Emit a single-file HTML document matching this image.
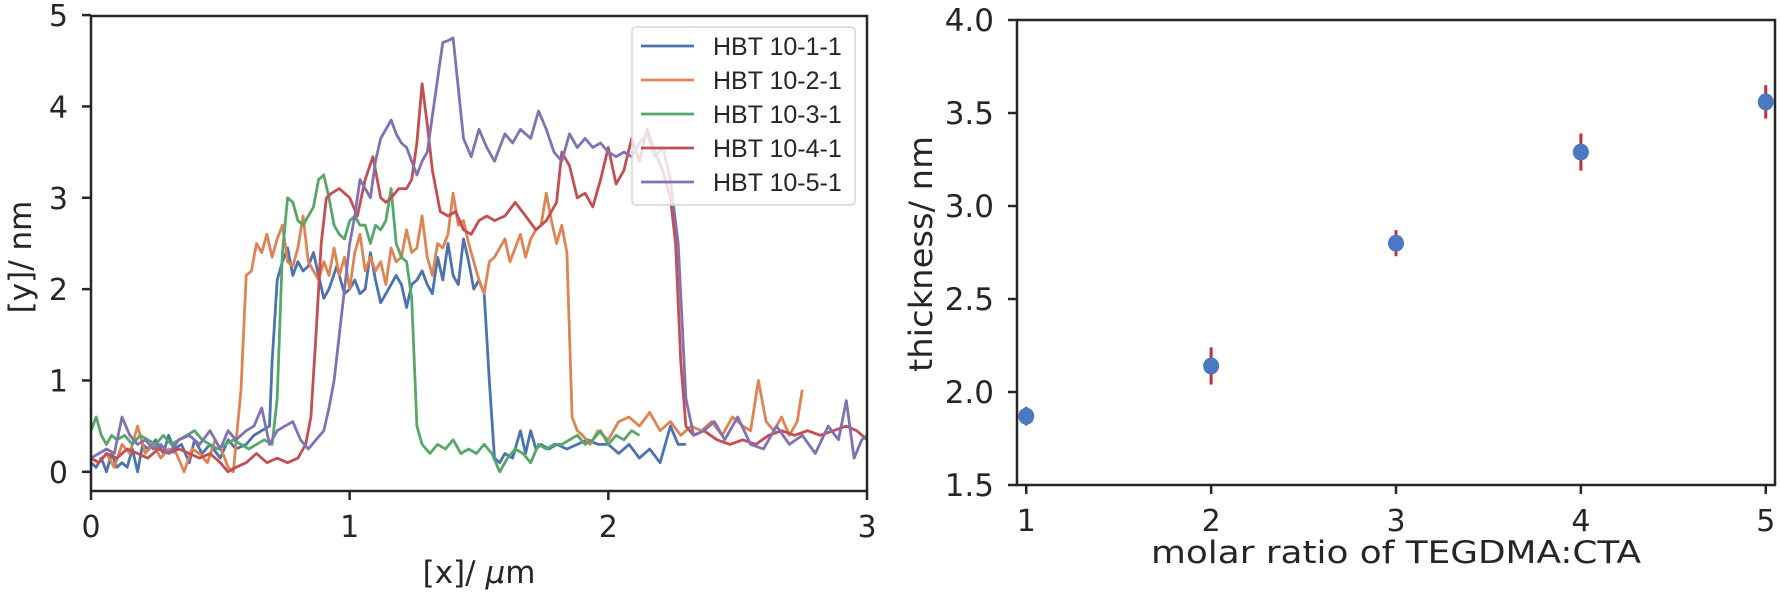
<!DOCTYPE html>
<html><head><meta charset="utf-8">
<style>
html,body{margin:0;padding:0;background:#fff;}
svg{display:block;font-family:"DejaVu Sans",sans-serif;}
</style></head>
<body>
<svg id="chart" width="1781" height="592" viewBox="0 0 1781 592"></svg>
<script>
// ---- Left chart data ----
const xTicksL = [0,1,2,3];
const yTicksL = [0,1,2,3,4,5];
const seriesNames = ["HBT 10-1-1","HBT 10-2-1","HBT 10-3-1","HBT 10-4-1","HBT 10-5-1"];
const blueX = [0,0.02,0.04,0.06,0.08,0.1,0.12,0.14,0.16,0.18,0.2,0.22,0.25,0.28,0.3,0.32,0.35,0.38,0.4,0.43,0.46,0.5,0.53,0.56,0.6,0.63,0.66,0.69,0.70,0.72,0.74,0.76,0.78,0.8,0.82,0.84,0.86,0.88,0.9,0.92,0.95,0.98,1.0,1.02,1.04,1.06,1.08,1.1,1.12,1.15,1.18,1.2,1.22,1.24,1.26,1.28,1.3,1.32,1.34,1.36,1.38,1.4,1.42,1.44,1.46,1.48,1.5,1.52,1.54,1.56,1.58,1.6,1.63,1.66,1.68,1.7,1.72,1.74,1.77,1.8,1.84,1.88,1.92,1.96,2.0,2.04,2.08,2.12,2.16,2.2,2.24,2.27,2.3];
const blueY = [0.1,0.05,0.15,0.0,0.2,0.05,0.1,0.05,0.25,0.0,0.3,0.25,0.35,0.2,0.4,0.25,0.3,0.1,0.35,0.2,0.3,0.15,0.35,0.25,0.3,0.4,0.45,0.5,1.2,2.1,2.3,2.45,2.15,2.3,2.2,2.25,2.4,2.15,1.9,2.0,2.25,1.95,2.0,2.1,1.95,2.0,2.4,2.1,1.85,2.0,2.15,2.05,1.8,2.05,2.1,2.2,2.05,1.95,2.35,2.1,2.5,2.15,2.05,2.55,2.3,2.0,2.1,1.95,1.0,0.15,0.1,0.2,0.15,0.45,0.2,0.45,0.25,0.3,0.25,0.3,0.25,0.3,0.35,0.3,0.3,0.2,0.3,0.15,0.25,0.1,0.5,0.3,0.3];
const orangeX = [0,0.03,0.06,0.09,0.12,0.15,0.18,0.21,0.24,0.27,0.3,0.33,0.36,0.39,0.42,0.45,0.48,0.51,0.53,0.55,0.58,0.6,0.62,0.64,0.66,0.68,0.7,0.72,0.74,0.76,0.78,0.8,0.82,0.84,0.86,0.88,0.9,0.92,0.94,0.96,0.98,1.0,1.02,1.04,1.06,1.08,1.1,1.12,1.14,1.16,1.18,1.2,1.22,1.24,1.26,1.28,1.3,1.32,1.34,1.36,1.38,1.4,1.42,1.44,1.46,1.48,1.5,1.52,1.54,1.56,1.58,1.6,1.62,1.64,1.66,1.68,1.7,1.72,1.74,1.76,1.78,1.8,1.82,1.84,1.86,1.88,1.9,1.93,1.96,2.0,2.04,2.08,2.12,2.16,2.2,2.24,2.28,2.32,2.36,2.4,2.44,2.48,2.52,2.55,2.58,2.61,2.64,2.67,2.7,2.73,2.75];
const orangeY = [0.15,0.1,0.2,0.05,0.3,0.2,0.5,0.2,0.3,0.15,0.25,0.2,0.0,0.25,0.2,0.1,0.35,0.2,0.05,0.0,0.9,2.15,2.2,2.5,2.4,2.6,2.35,2.55,2.7,2.3,2.25,2.45,2.8,2.3,2.2,2.1,2.3,2.15,2.45,2.15,2.35,2.0,2.4,2.6,2.2,2.35,2.2,2.3,2.05,2.45,2.3,2.35,2.65,2.4,2.45,2.8,2.35,2.15,2.5,2.45,2.6,3.05,2.7,2.75,2.5,2.3,2.1,1.95,2.3,2.35,2.45,2.55,2.3,2.45,2.6,2.35,2.55,2.65,2.7,3.05,2.75,2.5,2.7,2.4,0.6,0.45,0.4,0.3,0.45,0.35,0.55,0.6,0.5,0.65,0.45,0.55,0.4,0.5,0.45,0.55,0.4,0.6,0.5,0.45,1.0,0.55,0.45,0.6,0.4,0.55,0.9];
const greenX = [0,0.02,0.04,0.06,0.08,0.1,0.13,0.16,0.19,0.22,0.25,0.28,0.31,0.34,0.37,0.4,0.43,0.46,0.49,0.52,0.55,0.58,0.61,0.64,0.67,0.7,0.72,0.74,0.76,0.78,0.8,0.82,0.84,0.86,0.88,0.9,0.92,0.94,0.96,0.98,1.0,1.02,1.04,1.06,1.08,1.1,1.12,1.14,1.16,1.18,1.2,1.22,1.24,1.26,1.28,1.31,1.34,1.37,1.4,1.43,1.46,1.49,1.52,1.55,1.58,1.61,1.64,1.67,1.7,1.73,1.76,1.79,1.82,1.85,1.88,1.91,1.94,1.97,2.0,2.03,2.06,2.09,2.12];
const greenY = [0.45,0.6,0.4,0.3,0.4,0.35,0.4,0.3,0.4,0.35,0.3,0.4,0.3,0.35,0.4,0.45,0.35,0.3,0.25,0.3,0.35,0.3,0.25,0.3,0.35,0.3,0.8,2.4,3.0,2.95,2.75,2.7,2.8,2.9,3.2,3.25,3.0,2.7,2.6,2.55,2.75,2.8,2.7,2.7,2.5,2.7,2.65,2.75,3.1,2.5,2.35,2.3,1.9,0.5,0.3,0.2,0.3,0.25,0.35,0.2,0.25,0.2,0.3,0.2,0.0,0.15,0.25,0.2,0.1,0.3,0.25,0.3,0.3,0.35,0.4,0.3,0.35,0.45,0.3,0.4,0.35,0.45,0.4];
const redX = [0,0.03,0.06,0.1,0.14,0.18,0.22,0.26,0.3,0.34,0.38,0.42,0.46,0.5,0.53,0.56,0.6,0.64,0.68,0.72,0.76,0.8,0.83,0.85,0.87,0.89,0.91,0.93,0.96,1.0,1.03,1.06,1.09,1.12,1.14,1.16,1.19,1.22,1.24,1.26,1.28,1.3,1.32,1.35,1.38,1.41,1.44,1.47,1.5,1.53,1.56,1.6,1.64,1.68,1.72,1.76,1.8,1.82,1.85,1.88,1.91,1.94,1.97,2.0,2.03,2.06,2.09,2.12,2.15,2.18,2.21,2.24,2.26,2.28,2.3,2.33,2.37,2.42,2.47,2.52,2.57,2.62,2.67,2.72,2.77,2.82,2.87,2.92,2.96,3.0];
const redY = [0.15,0.1,0.2,0.15,0.25,0.2,0.15,0.25,0.2,0.25,0.2,0.15,0.2,0.1,0.0,0.05,0.1,0.2,0.1,0.15,0.1,0.15,0.3,0.6,1.5,2.5,3.0,3.05,3.1,3.0,2.8,3.2,3.45,3.0,2.95,3.0,3.1,3.1,3.2,3.6,4.25,3.8,3.3,2.85,2.8,2.85,2.65,2.6,2.75,2.8,2.75,2.8,2.95,2.8,2.65,2.75,2.95,3.5,3.35,3.0,3.05,2.9,3.2,3.55,3.15,3.3,3.65,3.4,3.75,3.5,3.3,3.0,2.5,1.2,0.5,0.4,0.45,0.35,0.3,0.35,0.3,0.4,0.45,0.4,0.45,0.4,0.45,0.5,0.45,0.35];
const purpleX = [0,0.03,0.06,0.09,0.12,0.15,0.18,0.21,0.24,0.27,0.3,0.34,0.38,0.42,0.46,0.5,0.53,0.56,0.6,0.63,0.66,0.69,0.72,0.75,0.78,0.81,0.84,0.87,0.9,0.92,0.94,0.96,0.98,1.0,1.02,1.04,1.06,1.08,1.1,1.12,1.14,1.16,1.18,1.2,1.22,1.24,1.26,1.28,1.3,1.32,1.34,1.36,1.38,1.4,1.42,1.44,1.47,1.5,1.53,1.56,1.6,1.63,1.66,1.7,1.73,1.76,1.79,1.82,1.85,1.88,1.91,1.94,1.97,2.0,2.03,2.06,2.09,2.12,2.15,2.18,2.21,2.24,2.27,2.3,2.33,2.37,2.41,2.45,2.5,2.55,2.6,2.65,2.7,2.75,2.8,2.85,2.89,2.92,2.95,2.98,3.0];
const purpleY = [0.15,0.2,0.25,0.2,0.6,0.4,0.3,0.35,0.25,0.3,0.2,0.35,0.4,0.3,0.45,0.25,0.45,0.35,0.45,0.5,0.7,0.3,0.45,0.5,0.55,0.35,0.25,0.35,0.45,0.7,1.0,1.5,2.0,2.5,2.8,3.2,3.1,3.0,3.4,3.65,3.75,3.85,3.7,3.6,3.55,3.4,3.25,3.4,3.5,3.9,4.3,4.7,4.72,4.75,4.2,3.65,3.45,3.75,3.55,3.4,3.7,3.6,3.75,3.65,3.95,3.75,3.5,3.4,3.7,3.55,3.65,3.55,3.6,3.5,3.45,3.5,3.45,3.6,3.7,3.45,3.55,3.2,2.5,0.8,0.4,0.45,0.55,0.35,0.6,0.3,0.25,0.5,0.3,0.4,0.2,0.5,0.35,0.78,0.15,0.35,0.4];
// ---- Right chart data ----
const ratios = [1,2,3,4,5];
const thickness = [1.87,2.14,2.80,3.29,3.56];
const thicknessErr = [0.05,0.10,0.07,0.10,0.09];
const xTicksR = [1,2,3,4,5];
const yTicksR = ["1.5","2.0","2.5","3.0","3.5","4.0"];

const NS = "http://www.w3.org/2000/svg";
const svg = document.getElementById('chart');
function mk(tag, attrs, parent, text){
  const e = document.createElementNS(NS, tag);
  for (const k in attrs) e.setAttribute(k, attrs[k]);
  if (text !== undefined) e.textContent = text;
  (parent||svg).appendChild(e);
  return e;
}
const L = {x0:91, x1:867, y0:16, y1:491, xmin:0, xmax:3, ymin:-0.21, ymax:4.99};
const lx = v => L.x0 + (v - L.xmin)/(L.xmax - L.xmin)*(L.x1 - L.x0);
const ly = v => L.y1 - (v - L.ymin)/(L.ymax - L.ymin)*(L.y1 - L.y0);
const R = {x0:1017, x1:1775, y0:20, y1:485, xmin:0.95, xmax:5.05, ymin:1.5, ymax:4.0};
const rx = v => R.x0 + (v - R.xmin)/(R.xmax - R.xmin)*(R.x1 - R.x0);
const ry = v => R.y1 - (v - R.ymin)/(R.ymax - R.ymin)*(R.y1 - R.y0);
const TXT = '#262626';

// ---------- Left chart ----------
const gL = mk('g', {}, svg);


const clip = mk('clipPath', {id:'clipL'}, svg);
mk('rect', {x:L.x0, y:L.y0, width:L.x1-L.x0, height:L.y1-L.y0}, clip);
const colors = ["#4c72b0","#dd8452","#55a868","#c44e52","#8172b3"];
const allX = [blueX, orangeX, greenX, redX, purpleX];
const allY = [blueY, orangeY, greenY, redY, purpleY];
const linesG = mk('g', {'clip-path':'url(#clipL)'}, gL);
for (let s = 0; s < 5; s++) {
  const pts = allX[s].map((x,i) => lx(x).toFixed(1) + ',' + ly(allY[s][i]).toFixed(1)).join(' ');
  const pl = mk('polyline', {points:pts, fill:'none', stroke:colors[s], 'stroke-width':2.8, 'stroke-linejoin':'round'}, linesG);
  
  
}
const frameL = mk('rect', {x:L.x0, y:L.y0, width:L.x1-L.x0, height:L.y1-L.y0, fill:'none', stroke:TXT, 'stroke-width':2.5}, gL);


xTicksL.forEach(t => {
  mk('line', {x1:lx(t), x2:lx(t), y1:L.y1, y2:L.y1+9, stroke:TXT, 'stroke-width':2.5}, gL);
  const tl = mk('text', {x:lx(t), y:537, 'font-size':30, 'text-anchor':'middle', fill:TXT}, gL, String(t));
  
  
});
yTicksL.forEach(t => {
  mk('line', {x1:L.x0-9, x2:L.x0, y1:ly(t), y2:ly(t), stroke:TXT, 'stroke-width':2.5}, gL);
  const tl = mk('text', {x:68, y:ly(t)+11, 'font-size':30, 'text-anchor':'end', fill:TXT}, gL, String(t));
  
  
});
const xlabL = mk('text', {x:479, y:583, 'font-size':31, 'text-anchor':'middle', fill:TXT}, gL);
xlabL.innerHTML = '[x]/ <tspan font-style="italic">μ</tspan>m';


const ylabL = mk('text', {x:0, y:0, 'font-size':31, 'text-anchor':'middle', fill:TXT, transform:'translate(31,257) rotate(-90)'}, gL, '[y]/ nm');


// legend
const leg = mk('g', {}, gL);


mk('rect', {x:632, y:27, width:223, height:178, rx:4, fill:'rgba(255,255,255,0.8)', stroke:'#d6d6d6', 'stroke-width':1.5}, leg);
seriesNames.forEach((n,i) => {
  const y = 46 + i*34;
  const e = mk('g', {}, leg);
  
  
  mk('line', {x1:641, x2:694, y1:y, y2:y, stroke:colors[i], 'stroke-width':2.8}, e);
  mk('text', {x:713, y:y+9, 'font-size':25, 'font-family':'"Liberation Sans", Arial, sans-serif', fill:TXT}, e, n);
});

// ---------- Right chart ----------
const gR = mk('g', {}, svg);


const frameR = mk('rect', {x:R.x0, y:R.y0, width:R.x1-R.x0, height:R.y1-R.y0, fill:'none', stroke:TXT, 'stroke-width':2.5}, gR);


xTicksR.forEach(t => {
  mk('line', {x1:rx(t), x2:rx(t), y1:R.y1, y2:R.y1+9, stroke:TXT, 'stroke-width':2.5}, gR);
  const tl = mk('text', {x:rx(t), y:531, 'font-size':30, 'text-anchor':'middle', fill:TXT}, gR, String(t));
  
  
});
yTicksR.forEach(t => {
  const v = parseFloat(t);
  mk('line', {x1:R.x0-9, x2:R.x0, y1:ry(v), y2:ry(v), stroke:TXT, 'stroke-width':2.5}, gR);
  const tl = mk('text', {x:994, y:ry(v)+11, 'font-size':31, 'text-anchor':'end', fill:TXT}, gR, t);
  
  
});
ratios.forEach((r,i) => {
  const eb = mk('line', {x1:rx(r), x2:rx(r), y1:ry(thickness[i]-thicknessErr[i]), y2:ry(thickness[i]+thicknessErr[i]), stroke:'#c0303a', 'stroke-width':3}, gR);
  
  
  const pt = mk('ellipse', {cx:rx(r), cy:ry(thickness[i]), rx:8, ry:8.5, fill:'#4a78c2'}, gR);
  
  
});
const xlabR = mk('text', {x:1396, y:563, 'font-size':31, 'text-anchor':'middle', fill:TXT, textLength:490, lengthAdjust:'spacingAndGlyphs'}, gR, 'molar ratio of TEGDMA:CTA');


const ylabR = mk('text', {x:0, y:0, 'font-size':32, 'text-anchor':'middle', fill:TXT, textLength:236, lengthAdjust:'spacingAndGlyphs', transform:'translate(932,254) rotate(-90)'}, gR, 'thickness/ nm');


</script>
</body></html>
